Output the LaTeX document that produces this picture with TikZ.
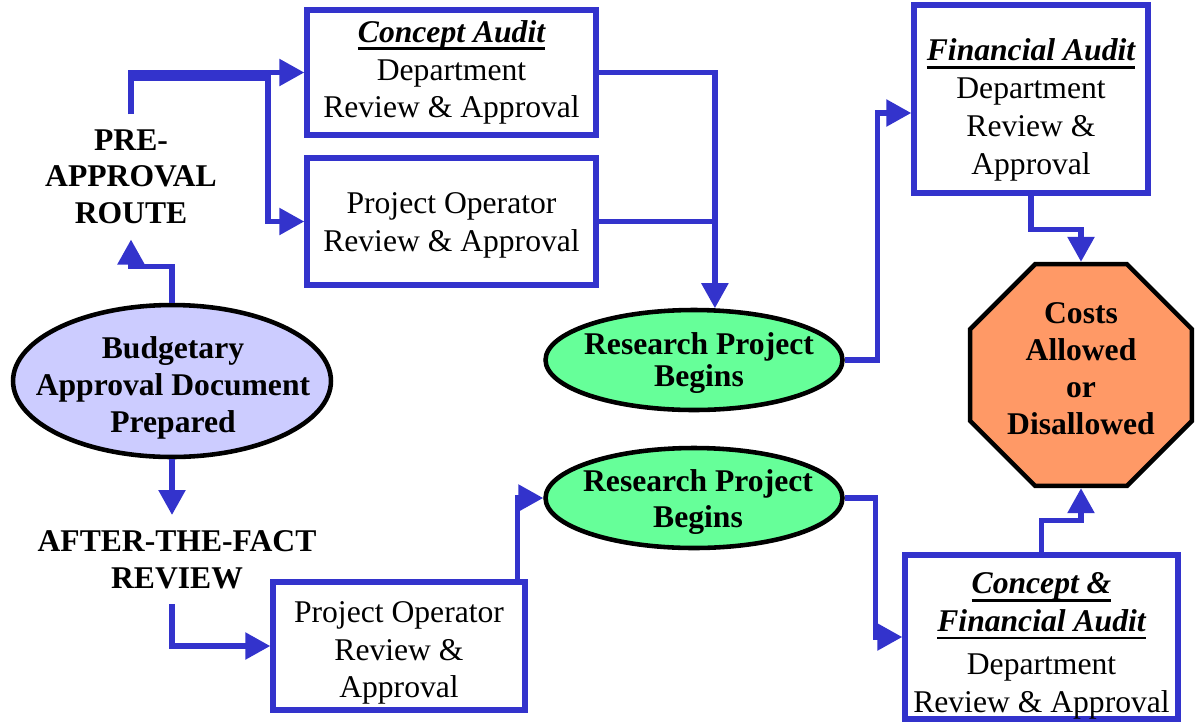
\documentclass[tikz,border=0pt]{standalone}
\usepackage{fontspec}
\setmainfont{Liberation Serif}
\usetikzlibrary{positioning, arrows.meta, shapes.geometric}

\definecolor{flowblue}{HTML}{3333CC}
\definecolor{budlilac}{HTML}{CCCCFF}
\definecolor{startgreen}{HTML}{66FF99}
\definecolor{costorange}{HTML}{FF9966}

% bold italic heading with a heavy underline
\newcommand{\audithead}[1]{\setbox0=\hbox{\bfseries\itshape #1}\rlap{\rule[-4.5pt]{\wd0}{1.6pt}}\box0}

\begin{document}
\begin{tikzpicture}[
  x=0.02cm, y=-0.02cm,
  txt/.style={align=center, font=\fontsize{18}{21.5}\selectfont},
  boldtxt/.style={align=center, font=\fontsize{18}{21}\selectfont\bfseries},
  stepbox/.style={txt, draw=flowblue, line width=3.1pt, fill=white, inner sep=0pt},
  oval/.style={ellipse, draw=black, line width=2.6pt, inner sep=0pt},
  flowline/.style={draw=flowblue, line width=3.1pt},
  flow/.style={flowline, -{Triangle[length=0.5cm, width=0.52cm]}},
]
  \useasboundingbox (0,0) rectangle (1196,721);

  % route labels
  \node[boldtxt, anchor=north, inner sep=0.3cm] (pre) at (131,114) {PRE-\\APPROVAL\\ROUTE};
  \node[boldtxt, anchor=north, inner sep=0.3cm] (aft) at (177,515) {AFTER-THE-FACT\\REVIEW};

  % start document
  \node[oval, fill=budlilac, minimum width=6.36cm, minimum height=3.04cm] (bud) at (172,381) {};
  \node[boldtxt] (budtxt) at (173,388) {Budgetary\\Approval Document\\Prepared};

  % review boxes
  \node[stepbox, minimum width=5.78cm, minimum height=2.5cm] (ca) at (451.5,72.5)
    {\audithead{Concept Audit}\\Department\\Review \& Approval};
  \node[stepbox, minimum width=5.78cm, minimum height=2.54cm] (po) at (451.5,221.5)
    {\rule{0pt}{16pt}Project Operator\\Review \& Approval};
  \node[stepbox, minimum width=5.04cm, minimum height=2.56cm] (bpo) at (399,646)
    {\rule{0pt}{20pt}Project Operator\\Review \&\\Approval};
  \node[stepbox, minimum width=4.68cm, minimum height=3.76cm] (fa) at (1031,99)
    {\rule{0pt}{25pt}\audithead{Financial Audit}\\Department\\Review \&\\Approval};
  \node[stepbox, minimum width=5.46cm, minimum height=3.16cm] (cfa) at (1041.5,637)
    {\rule{0pt}{22pt}\audithead{Concept \&}\\\audithead{Financial Audit}\\[3pt]Department\\Review \& Approval};

  % project start
  \node[oval, fill=startgreen, minimum width=5.94cm, minimum height=2.0cm] (rb1) at (694,360) {};
  \node[boldtxt] (rb1txt) at (699,363) {Research Project\\[-3pt]Begins};
  \node[oval, fill=startgreen, minimum width=5.94cm, minimum height=2.0cm] (rb2) at (694,498) {};
  \node[boldtxt] (rb2txt) at (698,502) {Research Project\\[-1pt]Begins};

  % outcome
  \node[regular polygon, regular polygon sides=8, draw=black, line width=2.6pt,
        fill=costorange, minimum size=4.8cm, inner sep=0pt] (oct) at (1081,375) {};
  \node[boldtxt] (octtxt) at (1081,369) {Costs\\Allowed\\or\\Disallowed};

  % pre-approval route
  \coordinate (split) at (268,78);
  \draw[flow] (bud.north) -- ++(0,-36) -| (pre.south);
  \draw[flow] (pre.north) |- (ca.west);
  \draw[flow] (pre.north) |- (split) |- (po.west);
  \draw[flow] (ca.east) -| (rb1.68);
  \draw[flowline] (po.east) -- ([xshift=1.5pt]po.east -| rb1.68);
  \draw[flow] (rb1.east) -- ++(33,0) |- ([yshift=-0.28cm]fa.west);
  \draw[flow] (fa.south) -- ++(0,34) -| (oct.north);

  % after-the-fact route
  \draw[flow] (bud.south) -- (bud.south |- aft.north);
  \draw[flow] (bud.south |- aft.south) |- (bpo.west);
  \draw[flow] ([xshift=-0.2cm]bpo.north east) |- (rb2.west);
  \draw[flow] (rb2.east) -- ++(31,0) |- (cfa.west);
  \draw[flow] (cfa.north) -- ++(0,-32) -| (oct.south);
\end{tikzpicture}
\end{document}
